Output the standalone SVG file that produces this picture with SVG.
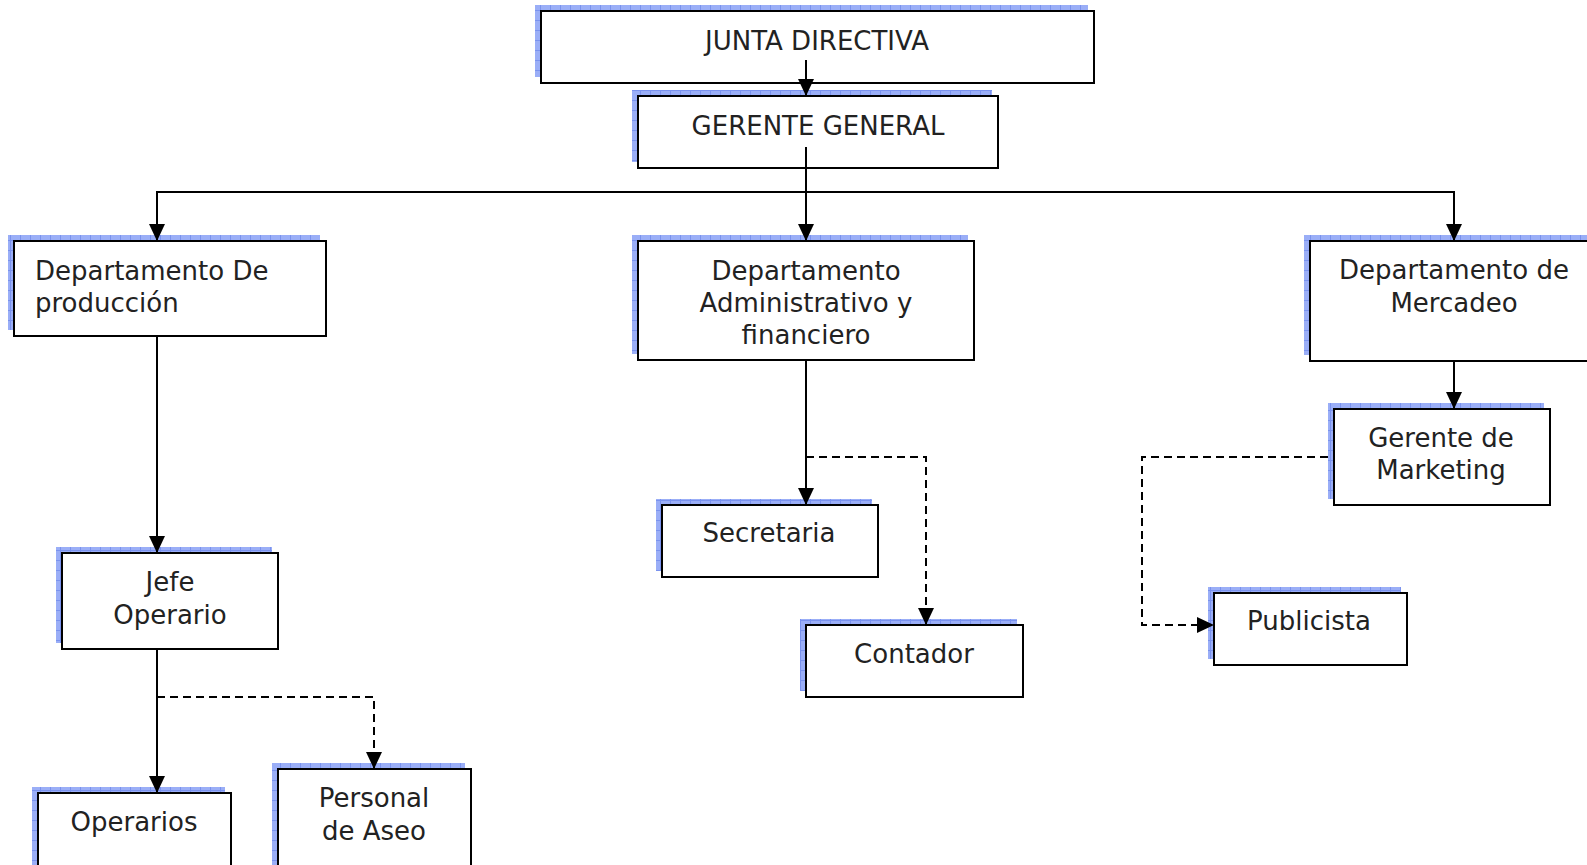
<svg xmlns="http://www.w3.org/2000/svg" width="1587" height="865" viewBox="0 0 1587 865">
  <defs>
    <!-- hatched blue drop shadow behind every box -->
    <pattern id="shade" patternUnits="userSpaceOnUse" width="10" height="10">
      <rect width="10" height="10" fill="#9aaef7"/>
      <path d="M0,0.5 H10 M0.5,0 V10" stroke="#7a92ee" stroke-width="1" fill="none"/>
    </pattern>
    <marker id="arrow" markerUnits="userSpaceOnUse" markerWidth="18" markerHeight="18" refX="17" refY="9" orient="auto">
      <path d="M0,1 L17,9 L0,17 z" fill="#000"/>
    </marker>
    <style>
      .shadow { fill: url(#shade); }
      .box { fill: #fff; stroke: #000; stroke-width: 2; }
      .lbl { font-family: "DejaVu Sans", "Liberation Sans", sans-serif; font-size: 26px; fill: #222; text-anchor: middle; }
      .left { text-anchor: start; }
      .link { fill: none; stroke: #000; stroke-width: 2; marker-end: url(#arrow); }
      .dash { stroke-dasharray: 8 5; }
    </style>
  </defs>
  <rect width="1587" height="865" fill="#fff"/>

  <g id="junta-directiva">
    <rect class="shadow" x="535" y="5" width="553" height="72"/>
    <rect class="box" x="541" y="11" width="553" height="72"/>
    <text class="lbl" x="817" y="50">JUNTA DIRECTIVA</text>
  </g>

  <g id="gerente-general">
    <rect class="shadow" x="632" y="90" width="360" height="72"/>
    <rect class="box" x="638" y="96" width="360" height="72"/>
    <text class="lbl" x="818" y="135">GERENTE GENERAL</text>
  </g>

  <g id="dep-produccion">
    <rect class="shadow" x="8" y="235" width="312" height="95"/>
    <rect class="box" x="14" y="241" width="312" height="95"/>
    <text class="lbl left" x="35" y="280">Departamento De</text>
    <text class="lbl left" x="35" y="312">producción</text>
  </g>

  <g id="dep-administrativo">
    <rect class="shadow" x="632" y="235" width="336" height="119"/>
    <rect class="box" x="638" y="241" width="336" height="119"/>
    <text class="lbl" x="806" y="280">Departamento</text>
    <text class="lbl" x="806" y="312">Administrativo y</text>
    <text class="lbl" x="806" y="344">financiero</text>
  </g>

  <g id="dep-mercadeo">
    <rect class="shadow" x="1304" y="235" width="300" height="120"/>
    <rect class="box" x="1310" y="241" width="300" height="120"/>
    <text class="lbl" x="1454" y="279">Departamento de</text>
    <text class="lbl" x="1454" y="312">Mercadeo</text>
  </g>

  <g id="gerente-marketing">
    <rect class="shadow" x="1328" y="403" width="216" height="96"/>
    <rect class="box" x="1334" y="409" width="216" height="96"/>
    <text class="lbl" x="1441" y="447">Gerente de</text>
    <text class="lbl" x="1441" y="479">Marketing</text>
  </g>

  <g id="secretaria">
    <rect class="shadow" x="656" y="499" width="216" height="72"/>
    <rect class="box" x="662" y="505" width="216" height="72"/>
    <text class="lbl" x="769" y="542">Secretaria</text>
  </g>

  <g id="contador">
    <rect class="shadow" x="800" y="619" width="217" height="72"/>
    <rect class="box" x="806" y="625" width="217" height="72"/>
    <text class="lbl" x="914" y="663">Contador</text>
  </g>

  <g id="publicista">
    <rect class="shadow" x="1208" y="587" width="193" height="72"/>
    <rect class="box" x="1214" y="593" width="193" height="72"/>
    <text class="lbl" x="1309" y="630">Publicista</text>
  </g>

  <g id="jefe-operario">
    <rect class="shadow" x="56" y="547" width="216" height="96"/>
    <rect class="box" x="62" y="553" width="216" height="96"/>
    <text class="lbl" x="170" y="591">Jefe</text>
    <text class="lbl" x="170" y="624">Operario</text>
  </g>

  <g id="operarios">
    <rect class="shadow" x="32" y="787" width="193" height="95"/>
    <rect class="box" x="38" y="793" width="193" height="95"/>
    <text class="lbl" x="134" y="831">Operarios</text>
  </g>

  <g id="personal-aseo">
    <rect class="shadow" x="272" y="763" width="193" height="115"/>
    <rect class="box" x="278" y="769" width="193" height="115"/>
    <text class="lbl" x="374" y="807">Personal</text>
    <text class="lbl" x="374" y="840">de Aseo</text>
  </g>

  <g id="connectors">
    <path class="link" d="M806,60 V96"/>
    <path class="link" d="M806,147 V241"/>
    <path class="link" d="M806,192 H157 V241"/>
    <path class="link" d="M806,192 H1454 V241"/>
    <path class="link" d="M157,336 V553"/>
    <path class="link" d="M157,649 V793"/>
    <path class="link dash" d="M157,697 H374 V769"/>
    <path class="link" d="M806,360 V505"/>
    <path class="link dash" d="M806,457 H926 V625"/>
    <path class="link" d="M1454,361 V409"/>
    <path class="link dash" d="M1328,457 H1142 V625 H1214"/>
  </g>
</svg>
